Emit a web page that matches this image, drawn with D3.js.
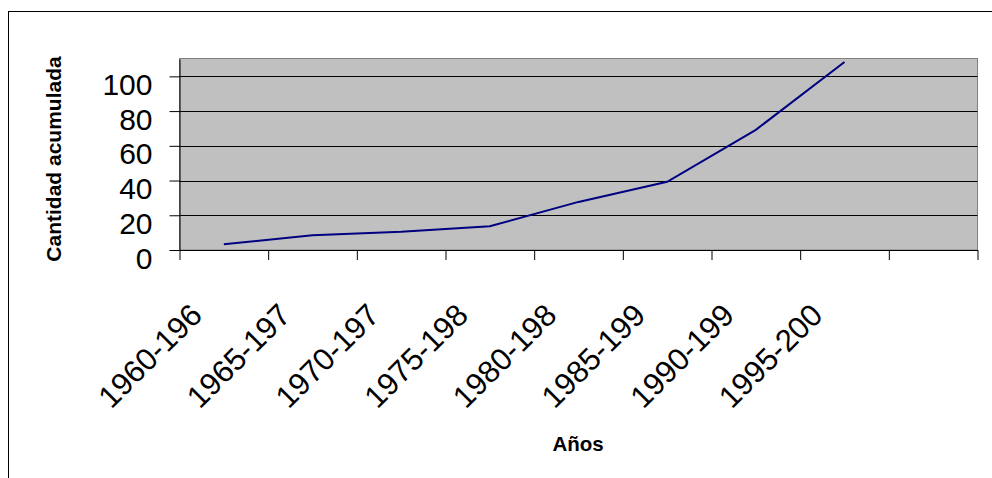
<!DOCTYPE html>
<html>
<head>
<meta charset="utf-8">
<script src="https://cdn.jsdelivr.net/npm/d3@7"></script>
<style>
  body { margin: 0; background: #fff; }
  svg { display: block; font-family: "Liberation Sans", Arial, sans-serif; }
</style>
</head>
<body>
<svg id="chart" width="992" height="478"></svg>
<script>
// periods (the ninth slot is empty in the original chart)
const periodos = ["1960-196", "1965-197", "1970-197", "1975-198", "1980-198", "1985-199", "1990-199", "1995-200", ""];
const cantidad = [3.3, 8.5, 10.5, 13.7, 27.7, 39.3, 69.2, 108.3];
const yTicks = [0, 20, 40, 60, 80, 100];

drawChart();

function drawChart(){
  const svg = d3.select("#chart");
  const left = 179.5, right = 977.5, top = 58.5, bottom = 250;

  // outer frame, runs off the right and bottom edges
  svg.append("rect")
    .attr("x", 8.5).attr("y", 11.5)
    .attr("width", 1100).attr("height", 600)
    .attr("fill", "none").attr("stroke", "#000").attr("stroke-width", 1);

  const x = d3.scaleBand().domain(periodos).range([left, right]).padding(0);
  const xb = d3.scaleLinear().domain([0, periodos.length]).range([left, right]);
  const y = d3.scaleLinear().domain([0, 110]).range([bottom, top + 0.5]);

  // plot area
  svg.append("rect")
    .attr("x", left).attr("y", top)
    .attr("width", right - left).attr("height", bottom - top)
    .attr("fill", "#c0c0c0").attr("stroke", "#808080").attr("stroke-width", 1);

  // gridlines
  svg.append("g")
    .selectAll("line")
    .data(yTicks.filter(d => d > 0))
    .enter()
    .append("line")
    .attr("x1", left).attr("x2", right)
    .attr("y1", d => Math.round(y(d)) + 0.5).attr("y2", d => Math.round(y(d)) + 0.5)
    .attr("stroke", "#000").attr("stroke-width", 1);

  // y axis
  const yAxis = svg.append("g")
    .attr("transform", "translate(" + left + ",0)")
    .call(d3.axisLeft(y).tickValues(yTicks).tickSize(10).tickPadding(17).tickSizeOuter(0));
  yAxis.select(".domain").attr("stroke", "#000");
  yAxis.selectAll(".tick line").attr("stroke", "#000");
  yAxis.selectAll("text")
    .attr("font-size", 30)
    .attr("font-family", "Liberation Sans, Arial, sans-serif")
    .attr("fill", "#000")
    .attr("dy", 18);

  // x axis: ticks at category boundaries
  const xAxis = svg.append("g")
    .attr("transform", "translate(0," + bottom + ")")
    .call(d3.axisBottom(xb).tickValues(d3.range(periodos.length + 1)).tickSize(10).tickFormat("").tickSizeOuter(0));
  xAxis.select(".domain").attr("stroke", "#000");
  xAxis.selectAll(".tick line").attr("stroke", "#000");

  // category labels, rotated
  svg.append("g")
    .selectAll("text")
    .data(periodos.filter(d => d !== ""))
    .enter()
    .append("text")
    .attr("transform", d => "translate(" + (x(d) + x.bandwidth() / 2 - 20) + "," + (bottom + 67) + ") rotate(-45)")
    .attr("text-anchor", "end")
    .attr("font-size", 31)
    .attr("fill", "#000")
    .text(d => d);

  // line
  const line = d3.line()
    .x((d, i) => x(periodos[i]) + x.bandwidth() / 2)
    .y(d => y(d));
  svg.append("path")
    .datum(cantidad)
    .attr("d", line)
    .attr("fill", "none")
    .attr("stroke", "#000080")
    .attr("stroke-width", 2);

  // axis titles
  svg.append("text")
    .attr("transform", "translate(61,159) rotate(-90)")
    .attr("text-anchor", "middle")
    .attr("font-size", 21)
    .attr("font-weight", "bold")
    .text("Cantidad acumulada");

  svg.append("text")
    .attr("x", 578).attr("y", 450.5)
    .attr("text-anchor", "middle")
    .attr("font-size", 20.5)
    .attr("font-weight", "bold")
    .text("Años");
}
</script>
</body>
</html>
